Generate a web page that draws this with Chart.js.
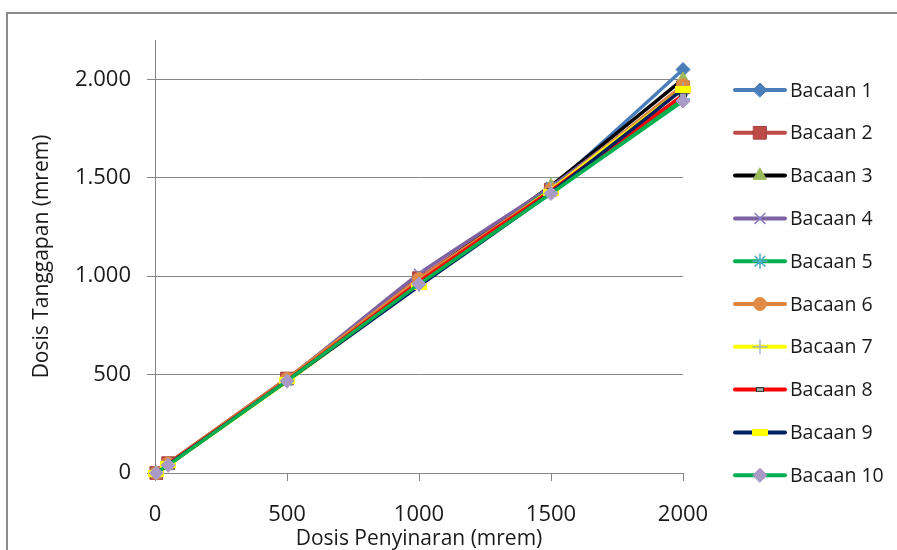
<!DOCTYPE html>
<html>
<head>
<meta charset="utf-8">
<script src="https://cdn.jsdelivr.net/npm/chart.js@4"></script>
<style>
  html, body { margin: 0; padding: 0; background: #ffffff; }
  #wrap { width: 897px; height: 550px; position: relative; }
</style>
</head>
<body>
<div id="wrap"><canvas id="c" width="897" height="550"></canvas></div>
<script>
// ---- data ----
const seriesNames = ['Bacaan 1','Bacaan 2','Bacaan 3','Bacaan 4','Bacaan 5','Bacaan 6','Bacaan 7','Bacaan 8','Bacaan 9','Bacaan 10'];
const doseX = [5, 50, 500, 1000, 1500, 2000];
const bacaan1  = [0, 45, 475, 985, 1450, 2050];
const bacaan2  = [0, 50, 480, 990, 1440, 1960];
const bacaan3  = [0, 45, 472, 980, 1460, 2000];
const bacaan4  = [0, 42, 475, 1012, 1455, 1955];
const bacaan5  = [0, 40, 470, 965, 1445, 1900];
const bacaan6  = [0, 48, 478, 985, 1440, 1970];
const bacaan7  = [0, 40, 465, 955, 1440, 1950];
const bacaan8  = [0, 45, 470, 970, 1435, 1920];
const bacaan9  = [0, 42, 468, 950, 1425, 1950];
const bacaan10 = [0, 40, 468, 960, 1420, 1890];
const xTicks = [0, 500, 1000, 1500, 2000];
const yTicks = [0, 500, 1000, 1500, 2000];

const allValues = [bacaan1,bacaan2,bacaan3,bacaan4,bacaan5,bacaan6,bacaan7,bacaan8,bacaan9,bacaan10];

function makeMarker(w, h, fill, stroke) {
  const c = document.createElement('canvas');
  c.width = w; c.height = h;
  const g = c.getContext('2d');
  g.fillStyle = fill; g.fillRect(0, 0, w, h);
  if (stroke) { g.strokeStyle = stroke; g.lineWidth = 1; g.strokeRect(0.5, 0.5, w - 1, h - 1); }
  return c;
}

const styles = [
  { line: '#4A7EBB', style: 'rectRot',  r: 7,   fill: '#4A7EBB', stroke: '#4A7EBB', bw: 1 },
  { line: '#BE4B48', style: 'rect',     r: 9,   fill: '#BE4B48', stroke: '#A43F3C', bw: 1 },
  { line: '#000000', style: 'triangle', r: 7.5, fill: '#9BBB59', stroke: '#9BBB59', bw: 1 },
  { line: '#7E62A1', style: 'crossRot', r: 7,   fill: '#8E7CC3', stroke: '#8E7CC3', bw: 1.5 },
  { line: '#00B050', style: 'star',     r: 7,   fill: '#4BACC6', stroke: '#4BACC6', bw: 1.5 },
  { line: '#DD8440', style: 'circle',   r: 6.5, fill: '#E08A45', stroke: '#E08A45', bw: 1 },
  { line: '#FFFF00', style: 'cross',    r: 7,   fill: '#95A8CF', stroke: '#95A8CF', bw: 1.2 },
  { line: '#FF0000', style: makeMarker(8, 5, '#A6A6A6', '#333333'), r: 4, fill: '#A6A6A6', stroke: '#333333', bw: 1 },
  { line: '#002060', style: makeMarker(16, 7, '#FFFF00'), r: 8, fill: '#FFFF00', stroke: '#FFFF00', bw: 1 },
  { line: '#00B050', style: 'rectRot',  r: 7,   fill: '#A99BC6', stroke: '#A99BC6', bw: 1 }
];

const datasets = seriesNames.map((name, i) => ({
  label: name,
  data: doseX.map((x, k) => ({ x: x, y: allValues[i][k] })),
  showLine: true,
  clip: false,
  borderColor: styles[i].line,
  borderWidth: 3.5,
  tension: 0.15,
  pointStyle: styles[i].style,
  pointRadius: styles[i].r,
  pointBackgroundColor: styles[i].fill,
  pointBorderColor: styles[i].stroke,
  pointBorderWidth: styles[i].bw,
  order: seriesNames.length - i
}));

const frame = {
  id: 'frame',
  beforeDraw(chart) {
    const ctx = chart.ctx;
    ctx.save();
    ctx.fillStyle = '#ffffff';
    ctx.fillRect(0, 0, chart.width, chart.height);
    ctx.strokeStyle = '#8A8A8A';
    ctx.lineWidth = 2;
    ctx.beginPath();
    ctx.moveTo(7, chart.height);
    ctx.lineTo(7, 13);
    ctx.lineTo(chart.width, 13);
    ctx.stroke();
    ctx.restore();
  }
};

const sideLegend = {
  id: 'sideLegend',
  afterDraw(chart) {
    const ctx = chart.ctx;
    const x0 = 735, x1 = 785, y0 = 90, step = 42.8;
    ctx.save();
    chart.data.datasets.forEach((ds, i) => {
      const y = y0 + i * step;
      ctx.strokeStyle = ds.borderColor;
      ctx.lineWidth = 4;
      ctx.lineCap = 'round';
      ctx.beginPath();
      ctx.moveTo(x0, y);
      ctx.lineTo(x1, y);
      ctx.stroke();
      ctx.fillStyle = ds.pointBackgroundColor;
      ctx.strokeStyle = ds.pointBorderColor;
      ctx.lineWidth = ds.pointBorderWidth;
      Chart.helpers.drawPoint(ctx, { pointStyle: ds.pointStyle, radius: ds.pointRadius, rotation: 0, borderWidth: ds.pointBorderWidth }, (x0 + x1) / 2, y);
      ctx.fillStyle = '#1a1a1a';
      ctx.font = "19.5px 'Open Sans', sans-serif";
      ctx.textBaseline = 'middle';
      ctx.textAlign = 'left';
      ctx.fillText(ds.label, 790, y + 1);
    });
    ctx.restore();
  }
};

Chart.defaults.font.family = "'Open Sans', sans-serif";
Chart.defaults.color = '#1a1a1a';

new Chart(document.getElementById('c'), {
  type: 'scatter',
  data: { datasets: datasets },
  options: {
    responsive: false,
    devicePixelRatio: 1,
    animation: false,
    layout: { padding: { top: 40, right: 214, left: 0, bottom: 0 } },
    plugins: { legend: { display: false }, tooltip: { enabled: false } },
    scales: {
      x: {
        type: 'linear',
        min: 0, max: 2000,
        afterBuildTicks(scale) { scale.ticks = xTicks.map(v => ({ value: v })); },
        afterFit(scale) { scale.height = 77; },
        ticks: { font: { size: 22 }, padding: 21, maxRotation: 0, callback: v => String(v) },
        grid: { drawOnChartArea: false, drawTicks: true, tickLength: 8, color: '#868686' },
        border: { display: true, color: '#868686', width: 1 },
        title: { display: true, text: 'Dosis Penyinaran (mrem)', font: { size: 21 }, padding: { top: 0, bottom: -2 } }
      },
      y: {
        type: 'linear',
        min: 0, max: 2200,
        afterBuildTicks(scale) { scale.ticks = yTicks.map(v => ({ value: v })); },
        afterFit(scale) { scale.width = 155; },
        ticks: { font: { size: 22 }, padding: 16, callback: v => String(v).replace(/\B(?=(\d{3})+(?!\d))/g, '.') },
        grid: { drawOnChartArea: true, drawTicks: true, tickLength: 8, color: '#868686' },
        border: { display: true, color: '#868686', width: 1 },
        title: { display: true, text: 'Dosis Tanggapan (mrem)', font: { size: 21 }, padding: { top: 29, bottom: 0 } }
      }
    }
  },
  plugins: [frame, sideLegend]
});
</script>
</body>
</html>
